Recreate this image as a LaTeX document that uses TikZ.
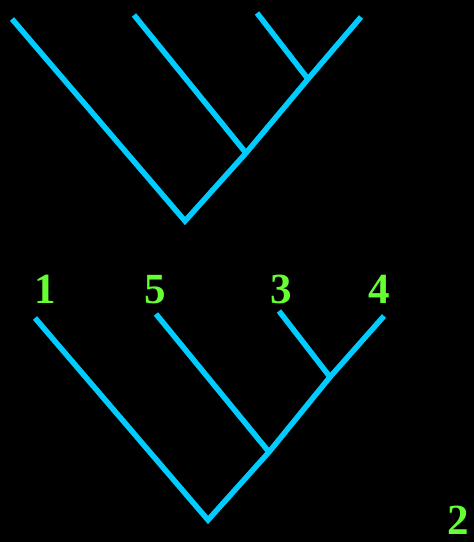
\documentclass[tikz,border=0pt]{standalone}
\usepackage{fontspec}
\setmainfont{Liberation Serif}
\begin{document}
\begin{tikzpicture}[x=1pt,y=-1pt,
  branch/.style={draw=treecyan,line width=5.5pt},
  lbl/.style={text=labgreen,font=\fontsize{43}{43}\selectfont\bfseries,anchor=base,inner sep=0pt}]
\definecolor{treecyan}{RGB}{0,204,255}
\definecolor{labgreen}{RGB}{102,255,51}
\fill[black] (0,0) rectangle (474,542);
\useasboundingbox (0,0) rectangle (474,542);
% top tree
\coordinate (ta) at (12,19);
\coordinate (tb) at (134,15);
\coordinate (tc) at (257,13);
\coordinate (td) at (361,17);
\coordinate (tr) at (185,221);
\coordinate (tx) at (246,153);
\coordinate (ty) at (308,79);
\draw[branch] (ta) -- (tr) -- (tx) -- (ty) -- (td);
\draw[branch] (tb) -- (tx);
\draw[branch] (tc) -- (ty);
% bottom tree
\coordinate (ba) at (35,318);
\coordinate (bb) at (156,314);
\coordinate (bc) at (279,311);
\coordinate (bd) at (384,316);
\coordinate (br) at (208,520);
\coordinate (bx) at (269,452);
\coordinate (by) at (330,377);
\draw[branch] (ba) -- (br) -- (bx) -- (by) -- (bd);
\draw[branch] (bb) -- (bx);
\draw[branch] (bc) -- (by);
% labels
\node[lbl] (l1) at (45,303) {1};
\node[lbl] (l5) at (155,303) {5};
\node[lbl] (l3) at (281,303) {3};
\node[lbl] (l4) at (379,303) {4};
\node[lbl] (l2) at (458,534) {2};
\end{tikzpicture}
\end{document}
